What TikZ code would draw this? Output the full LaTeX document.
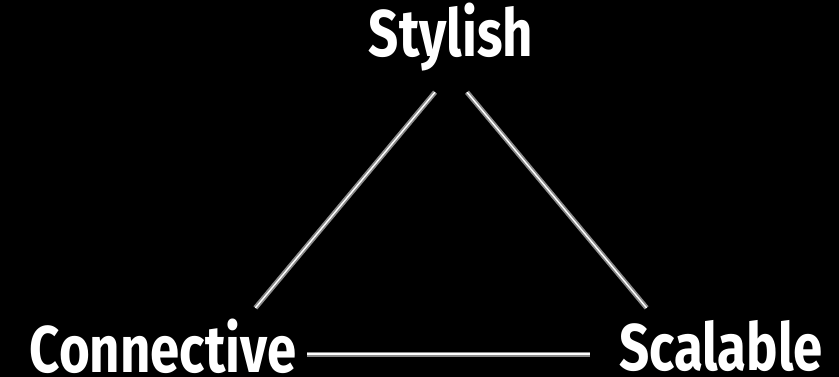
\documentclass[tikz,border=0pt]{standalone}
\usepackage{fontspec}
\setmainfont{Fira Sans}[FakeStretch=0.8]
\usepackage{tikz}
\usetikzlibrary{positioning,calc}
\definecolor{tgEdge}{HTML}{8A8A8A}

\begin{document}
\begin{tikzpicture}[x=1pt,y=-1pt,
  label/.style={text=white, font=\fontsize{66}{66}\selectfont\bfseries, inner sep=0pt, anchor=base},
  rod/.style={draw=tgEdge, line width=1.8pt, double=white, double distance=1.4pt}]
  \fill[black] (0,0) rectangle (839,377);
  \useasboundingbox (0,0) rectangle (839,377);
  \coordinate (top) at (451,73);
  \coordinate (left) at (217,354);
  \coordinate (right) at (685,354);
  \node[label] (stylish) at (451,57) {Stylish};
  \node[label] (connective) at (163,372) {Connective};
  \node[label] (scalable) at (721,370) {Scalable};
  \draw[rod, shorten <=60pt, shorten >=25pt] (left) -- (top);
  \draw[rod, shorten <=25pt, shorten >=60pt] (top) -- (right);
  \draw[rod, shorten <=90pt, shorten >=95pt] (left) -- (right);
\end{tikzpicture}
\end{document}
